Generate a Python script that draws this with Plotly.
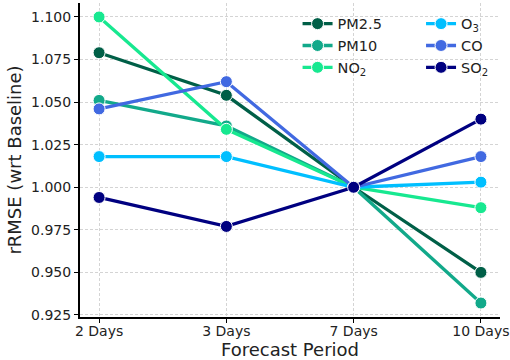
import plotly.graph_objects as go

periods = ["2 Days", "3 Days", "7 Days", "10 Days"]
pm25 = [1.079, 1.054, 1.000, 0.950]
pm10 = [1.051, 1.036, 1.000, 0.932]
no2 = [1.100, 1.034, 1.000, 0.988]
o3 = [1.018, 1.018, 1.000, 1.003]
co = [1.046, 1.062, 1.000, 1.018]
so2 = [0.994, 0.977, 1.000, 1.040]
y_ticks = [0.925, 0.950, 0.975, 1.000, 1.025, 1.050, 1.075, 1.100]

series = [
    ("PM2.5", pm25, "#005f47", "legend"),
    ("PM10", pm10, "#12a98a", "legend"),
    ("NO<sub>2</sub>", no2, "#17e890", "legend"),
    ("O<sub>3</sub>", o3, "#00bfff", "legend2"),
    ("CO", co, "#4169e1", "legend2"),
    ("SO<sub>2</sub>", so2, "#000080", "legend2"),
]

fig = go.Figure()
for name, vals, color, leg in series:
    fig.add_trace(go.Scatter(
        x=periods, y=vals, name=name, mode="lines+markers",
        line=dict(color=color, width=3.3),
        marker=dict(color=color, size=12, line=dict(color="white", width=1)),
        legend=leg,
    ))

font = "DejaVu Sans"
legend_common = dict(
    bgcolor="rgba(0,0,0,0)", borderwidth=0,
    font=dict(family=font, size=14.5, color="#222"),
    xanchor="left", yanchor="top", tracegroupgap=0,
)
fig.update_layout(
    width=510, height=360,
    margin=dict(l=80, r=10, t=3, b=43),
    paper_bgcolor="white", plot_bgcolor="white",
    font=dict(family=font, color="#222"),
    legend=dict(x=0.518, y=0.985, **legend_common),
    legend2=dict(x=0.812, y=0.985, **legend_common),
    xaxis=dict(
        type="category", range=[-0.15, 3.15],
        showline=True, linecolor="black", linewidth=2,
        ticks="outside", ticklen=4, tickcolor="black", tickwidth=1,
        ticklabelstandoff=-4,
        tickfont=dict(family=font, size=14, color="#222"),
        showgrid=True, gridcolor="#d4d4d4", gridwidth=0.8, griddash="3px,2px",
        zeroline=False,
        title=dict(text="Forecast Period", font=dict(family=font, size=18, color="#222"), standoff=4),
        automargin=False,
    ),
    yaxis=dict(
        range=[0.9238, 1.1082],
        tickvals=y_ticks, tickformat=".3f",
        showline=True, linecolor="black", linewidth=2,
        ticks="outside", ticklen=4, tickcolor="black", tickwidth=1,
        tickfont=dict(family=font, size=14, color="#222"),
        showgrid=True, gridcolor="#d4d4d4", gridwidth=0.8, griddash="3px,2px",
        zeroline=False,
        title=dict(text="rRMSE (wrt Baseline)", font=dict(family=font, size=18, color="#222"), standoff=5),
        automargin=False,
    ),
)

fig.write_html("out.html", config={"displayModeBar": False},
               post_script="document.body.style.margin='0';")
